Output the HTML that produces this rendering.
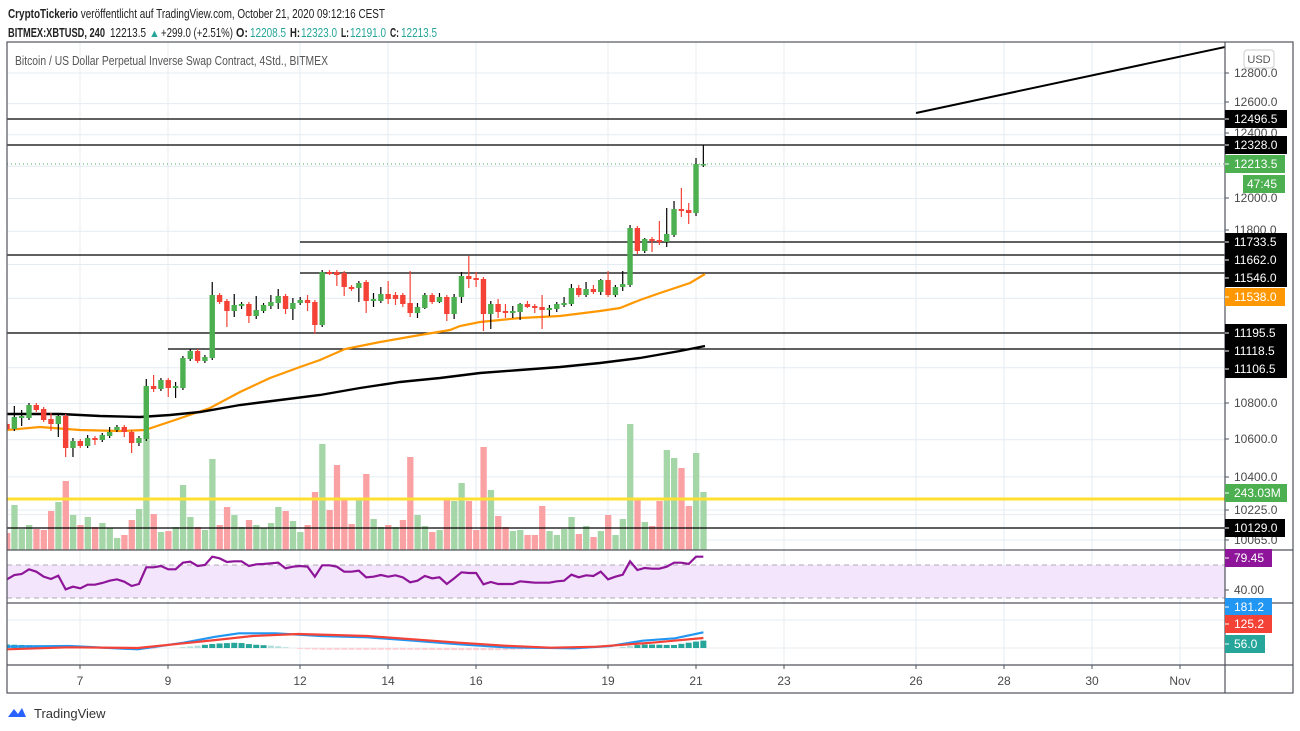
<!DOCTYPE html>
<html><head><meta charset="utf-8"><style>
html,body{margin:0;padding:0;background:#fff;width:1300px;height:731px;overflow:hidden}
svg{display:block;font-family:"Liberation Sans",sans-serif}
</style></head><body>
<svg id="s" width="1300" height="731" viewBox="0 0 1300 731" xmlns="http://www.w3.org/2000/svg">
<defs><clipPath id="cp"><rect x="7.5" y="42" width="1217" height="623"/></clipPath></defs>
<rect width="1300" height="731" fill="#fff"/>
<g id="grid" stroke="#e4ecf2" stroke-width="1"></g>
<!-- header -->
<text x="8" y="18" font-size="13" fill="#222" textLength="377" lengthAdjust="spacingAndGlyphs"><tspan font-weight="bold">CryptoTickerio</tspan> veröffentlicht auf TradingView.com, October 21, 2020 09:12:16 CEST</text>
<g font-size="13" fill="#222">
<text x="8" y="37" font-weight="bold" textLength="97" lengthAdjust="spacingAndGlyphs">BITMEX:XBTUSD, 240</text>
<text x="110" y="37" textLength="36" lengthAdjust="spacingAndGlyphs">12213.5</text>
<text x="149" y="37" fill="#26a69a" font-size="11">▲</text>
<text x="161" y="37" textLength="72" lengthAdjust="spacingAndGlyphs">+299.0 (+2.51%)</text>
<text x="236" y="37" font-weight="bold" textLength="12" lengthAdjust="spacingAndGlyphs">O:</text><text x="250" y="37" fill="#26a69a" textLength="36" lengthAdjust="spacingAndGlyphs">12208.5</text>
<text x="290" y="37" font-weight="bold" textLength="10" lengthAdjust="spacingAndGlyphs">H:</text><text x="301" y="37" fill="#26a69a" textLength="36" lengthAdjust="spacingAndGlyphs">12323.0</text>
<text x="341" y="37" font-weight="bold" textLength="8" lengthAdjust="spacingAndGlyphs">L:</text><text x="350" y="37" fill="#26a69a" textLength="36" lengthAdjust="spacingAndGlyphs">12191.0</text>
<text x="390" y="37" font-weight="bold" textLength="9" lengthAdjust="spacingAndGlyphs">C:</text><text x="401" y="37" fill="#26a69a" textLength="36" lengthAdjust="spacingAndGlyphs">12213.5</text>
</g>
<text x="15" y="65" font-size="13" fill="#555" textLength="313" lengthAdjust="spacingAndGlyphs">Bitcoin / US Dollar Perpetual Inverse Swap Contract, 4Std., BITMEX</text>
<!-- RSI band -->
<rect x="7" y="565" width="1218" height="33" fill="#f3e5fb"/>
<line x1="7" y1="565" x2="1225" y2="565" stroke="#b0a8b4" stroke-dasharray="5,4"/>
<line x1="7" y1="598" x2="1225" y2="598" stroke="#b0a8b4" stroke-dasharray="5,4"/>
<g clip-path="url(#cp)">
<g id="vol"></g>
<g stroke="#000" stroke-width="1.3">
<line x1="7" y1="119" x2="1225" y2="119"/>
<line x1="7" y1="145" x2="1225" y2="145"/>
<line x1="300" y1="242" x2="1225" y2="242"/>
<line x1="7" y1="255" x2="1225" y2="255"/>
<line x1="300" y1="273" x2="1225" y2="273"/>
<line x1="7" y1="333" x2="1225" y2="333"/>
<line x1="168" y1="349" x2="1225" y2="349"/>
<line x1="7" y1="528" x2="1225" y2="528"/>
<line x1="916" y1="113" x2="1225" y2="47" stroke-width="2"/>
</g>
<line x1="7" y1="499" x2="1225" y2="499" stroke="#ffe030" stroke-width="3"/>
<line x1="7" y1="164" x2="1225" y2="164" stroke="#4caf50" stroke-dasharray="1,3"/>
<polyline fill="none" stroke="#ff9800" stroke-width="2.2" points="7,430 40,427 80,430 120,431 145,430 175,420 210,408 240,392 270,378 300,367 320,360 345,349 380,342 420,335 450,330 460,326 480,322 520,318 560,316 600,311 620,308 640,300 660,293 690,283 705,274"/>
<polyline fill="none" stroke="#000" stroke-width="2.4" points="7,414 60,414 100,416 140,417 170,415 200,412 240,405 280,400 320,395 360,388 400,382 440,378 480,373 520,370 560,367 600,363 640,358 680,351 705,346"/>
<g id="cdl"></g>
<g id="ind"></g>
</g>
<!-- frame -->
<g stroke="#50535e" stroke-width="1.2" fill="none">
<rect x="7" y="42" width="1286" height="651"/>
<line x1="1225" y1="42" x2="1225" y2="693"/>
<line x1="7" y1="550" x2="1293" y2="550"/>
<line x1="7" y1="603" x2="1293" y2="603"/>
<line x1="7" y1="665" x2="1293" y2="665"/>
</g>
<g id="axis" font-size="12" fill="#4a4a4a"></g>
<rect x="1244" y="50" width="30" height="18" rx="3" fill="#fff" stroke="#ccc"/>
<text x="1259" y="63" font-size="11" fill="#555" text-anchor="middle">USD</text>
<!-- logo -->
<path d="M8 717 l6 -8 l4 5 l4 -6 l4 9 z" fill="#2962ff"/>
<text x="34" y="718" font-size="13" fill="#333">TradingView</text>
</svg>
<script>
var NS="http://www.w3.org/2000/svg";
function el(p,t,a,txt){var e=document.createElementNS(NS,t);for(var k in a)e.setAttribute(k,a[k]);if(txt!==undefined)e.textContent=txt;document.getElementById(p).appendChild(e);return e;}
function py(p){return 73+1945*Math.log(12800/p);}
var dx=[80,168,300,388,476,608,696,784,916,1004,1092,1180];
dx.forEach(function(x){el("grid","line",{x1:x,y1:42,x2:x,y2:665});});
for(var p=10000;p<=12800;p+=200){var y=py(p);if(y>42&&y<550)el("grid","line",{x1:7,y1:y,x2:1225,y2:y});}
[510,540,575,590,620,648].forEach(function(y){el("grid","line",{x1:7,y1:y,x2:1225,y2:y});});
var C=[[424,429,422,431,'r'],[417,429,406,431,'g'],[416,418,410,426,'g'],[405,418,403,420,'g'],[405,410,403,412,'r'],[409,420,407,422,'r'],[419,424,413,431,'r'],[416,424,413,437,'g'],[416,448,414,457,'r'],[441,448,438,457,'g'],[441,446,439,448,'r'],[438,446,435,448,'g'],[438,440,436,445,'r'],[435,440,433,442,'g'],[432,436,427,438,'g'],[427,430,425,432,'g'],[427,432,425,437,'r'],[432,443,430,453,'r'],[438,443,436,446,'g'],[386,439,379,441,'g'],[386,389,375,392,'r'],[380,389,378,391,'g'],[380,388,378,397,'r'],[386,388,382,398,'g'],[358,388,356,390,'g'],[351,359,349,361,'g'],[351,361,349,363,'r'],[357,361,355,363,'g'],[295,358,282,360,'g'],[295,302,293,304,'r'],[301,311,299,327,'r'],[305,311,294,317,'g'],[304,306,302,309,'g'],[304,316,302,323,'r'],[310,316,296,319,'g'],[305,311,303,313,'g'],[302,306,295,309,'g'],[296,303,289,309,'g'],[296,309,294,314,'r'],[303,309,298,320,'g'],[300,303,297,305,'g'],[300,303,295,311,'r'],[302,325,300,334,'r'],[272,325,270,327,'g'],[272,274,270,275,'r'],[272,275,270,286,'r'],[273,287,271,296,'r'],[287,289,285,291,'r'],[283,288,281,302,'g'],
[282,301,280,313,'r'],[299,301,293,307,'g'],[294,301,287,303,'g'],[294,299,281,304,'r'],[295,299,292,305,'r'],[295,304,293,307,'r'],[303,313,271,317,'r'],[307,313,303,318,'g'],[295,308,293,309,'g'],[295,302,293,304,'r'],[297,302,293,303,'g'],[297,314,295,321,'r'],[297,314,294,319,'g'],[276,297,272,303,'g'],[276,279,256,288,'r'],[278,280,272,287,'r'],[279,314,277,331,'r'],[304,314,301,329,'g'],[304,312,299,318,'r'],[311,313,304,318,'r'],[311,313,306,318,'g'],[304,312,303,320,'g'],[304,307,301,308,'r'],[306,308,304,313,'r'],[307,310,295,329,'r'],[308,310,305,316,'g'],[304,309,302,312,'g'],[303,305,297,307,'g'],[288,304,284,306,'g'],[288,295,285,297,'r'],[289,295,282,297,'g'],[289,292,285,294,'r'],[280,292,279,295,'g'],[280,295,271,297,'r'],[287,295,285,297,'g'],[284,287,271,291,'g'],[228,285,225,287,'g'],[228,251,226,254,'r'],[239,251,238,253,'g'],[239,241,237,252,'r'],[240,242,221,245,'r'],[234,242,208,247,'g'],[209,235,201,237,'g'],[209,211,188,217,'r'],[210,213,203,224,'r'],[164,213,158,216,'g'],[164,165,145,167,'g']];
var V=[[533,'r'],[505,'g'],[529,'g'],[525,'g'],[529,'r'],[530,'r'],[511,'r'],[502,'g'],[481,'r'],[515,'g'],[525,'r'],[517,'g'],[527,'r'],[523,'g'],[528,'g'],[538,'g'],[535,'r'],[520,'r'],[509,'g'],[433,'g'],[514,'r'],[532,'g'],[531,'r'],[527,'g'],[485,'g'],[517,'g'],[527,'r'],[530,'g'],[459,'g'],[525,'r'],[507,'r'],[515,'g'],[527,'g'],[520,'r'],[525,'g'],[528,'g'],[523,'g'],[507,'g'],[511,'r'],[521,'g'],[532,'g'],[525,'r'],[492,'r'],[444,'g'],[510,'r'],[465,'r'],[498,'r'],[524,'r'],[498,'g'],[474,'r'],[519,'g'],[527,'g'],[525,'r'],[527,'g'],[520,'r'],[457,'r'],[515,'g'],[526,'g'],[532,'r'],[530,'g'],[500,'r'],[501,'g'],[483,'g'],[501,'r'],[530,'r'],[447,'r'],[490,'g'],[516,'r'],[527,'r'],[531,'g'],[530,'g'],[535,'r'],[535,'r'],[506,'r'],[531,'g'],[535,'g'],[529,'g'],[517,'g'],[534,'r'],[526,'g'],[537,'r'],[531,'g'],[515,'r'],[535,'g'],[519,'g'],[424,'g'],[498,'r'],[522,'g'],[526,'r'],[501,'r'],[450,'g'],[458,'g'],[468,'r'],[506,'r'],[453,'g'],[492,'g']];
function X(i){return 7+i*7.33;}
V.forEach(function(v,i){el("vol","rect",{x:X(i)-3,y:v[0],width:6.3,height:550-v[0],fill:v[1]=='g'?'#a5d6a7':'#faa1a4'});});
C.forEach(function(c,i){var x=X(i),col=c[4]=='g'?'#4caf50':'#f44336';
el("cdl","line",{x1:x,y1:c[2],x2:x,y2:c[3],stroke:c[4]=='g'?'#000':col,"stroke-width":1.2});
el("cdl","rect",{x:x-2.7,y:c[0],width:5.4,height:Math.max(1.5,c[1]-c[0]),fill:col});});
var R=[478,465,462,448,455,470,477,467,508,500,505,494,494,489,482,478,485,498,492,442,442,438,448,448,428,425,438,435,410,415,426,424,424,438,433,432,430,428,445,440,438,440,470,436,436,440,455,455,452,472,470,465,470,466,472,487,482,468,475,472,492,475,457,459,459,493,486,492,492,492,484,486,488,488,488,484,482,464,472,466,468,455,478,470,464,424,450,444,446,446,440,428,428,432,410,410];
el("ind","polyline",{fill:"none",stroke:"#8e1599","stroke-width":2.2,points:R.map(function(v,i){return X(i)+","+(420+v/3)}).join(" ")});
function cv(pts){return pts.map(function(p){return (p[0]/2.178)+","+(420+p[1]/3)}).join(" ");}
var blue=[[15,680],[150,678],[300,688],[400,668],[470,650],[520,640],[600,640],[700,648],[800,652],[900,662],[1000,673],[1100,682],[1250,685],[1330,678],[1400,662],[1470,655],[1532,637]];
var red=[[15,688],[150,682],[300,684],[400,670],[470,660],[550,648],[650,642],[800,648],[900,658],[1000,668],[1100,677],[1200,683],[1300,680],[1420,668],[1532,654]];
for(var i=0;i<96;i++){var Xp=15+i*16;function interp(a){for(var k=0;k<a.length-1;k++){if(Xp<=a[k+1][0]){var t=(Xp-a[k][0])/(a[k+1][0]-a[k][0]);return a[k][1]+t*(a[k+1][1]-a[k][1]);}}return a[a.length-1][1];}
var d=(interp(red)-interp(blue))/3;var up=d>0;var h=Math.min(8,Math.abs(d)*1.3);if(h<0.5)continue;
el("ind","rect",{x:X(i)-3,y:up?648-h:648,width:6,height:h,fill:up?(d>2?'#26a69a':'#b2dfdb'):(d<-2?'#ef5350':'#ffcdd2')});}
el("ind","polyline",{fill:"none",stroke:"#2196f3","stroke-width":2.2,points:cv(blue)});
el("ind","polyline",{fill:"none",stroke:"#f44336","stroke-width":2.2,points:cv(red)});
[[12800,73],[12600,102],[12400,133],[12000,198],[11800,230],[10800,403],[10600,439],[10400,477],[10225,510],[10065,540],[40,590]].forEach(function(a){
el("axis","line",{x1:1225,y1:a[1],x2:1229,y2:a[1],stroke:"#50535e"});
el("axis","text",{x:1234,y:a[1]+4},a[0]==40?"40.00":a[0].toFixed(1));});
[["12496.5",119,"#000",62],["12328.0",145,"#000",62],["12213.5",164,"#4caf50",60],["11733.5",242,"#000",62],["11662.0",260,"#000",62],["11546.0",278,"#000",62],["11538.0",297,"#ff9800",60],["11195.5",333,"#000",62],["11118.5",351,"#000",62],["11106.5",369,"#000",62],["243.03M",493,"#4caf50",62],["10129.0",528,"#000",60],["79.45",558,"#8e1599",47],["181.2",607,"#2196f3",47],["125.2",624,"#f44336",47],["56.0",644,"#26a69a",40]].forEach(function(b){
el("axis","rect",{x:1225,y:b[1]-9,width:b[3],height:18,fill:b[2]});
el("axis","line",{x1:1225,y1:b[1],x2:1229,y2:b[1],stroke:"#fff"});
el("axis","text",{x:1234,y:b[1]+4,fill:"#fff"},b[0]);});
el("axis","rect",{x:1243,y:175,width:42,height:18,fill:"#4caf50"});
el("axis","text",{x:1247,y:188,fill:"#fff"},"47:45");
[["7",80],["9",168],["12",300],["14",388],["16",476],["19",608],["21",696],["23",784],["26",916],["28",1004],["30",1092],["Nov",1180]].forEach(function(d){
el("axis","line",{x1:d[1],y1:665,x2:d[1],y2:669,stroke:"#50535e"});
el("axis","text",{x:d[1],y:685,"text-anchor":"middle"},d[0]);});
</script>
</body></html>
